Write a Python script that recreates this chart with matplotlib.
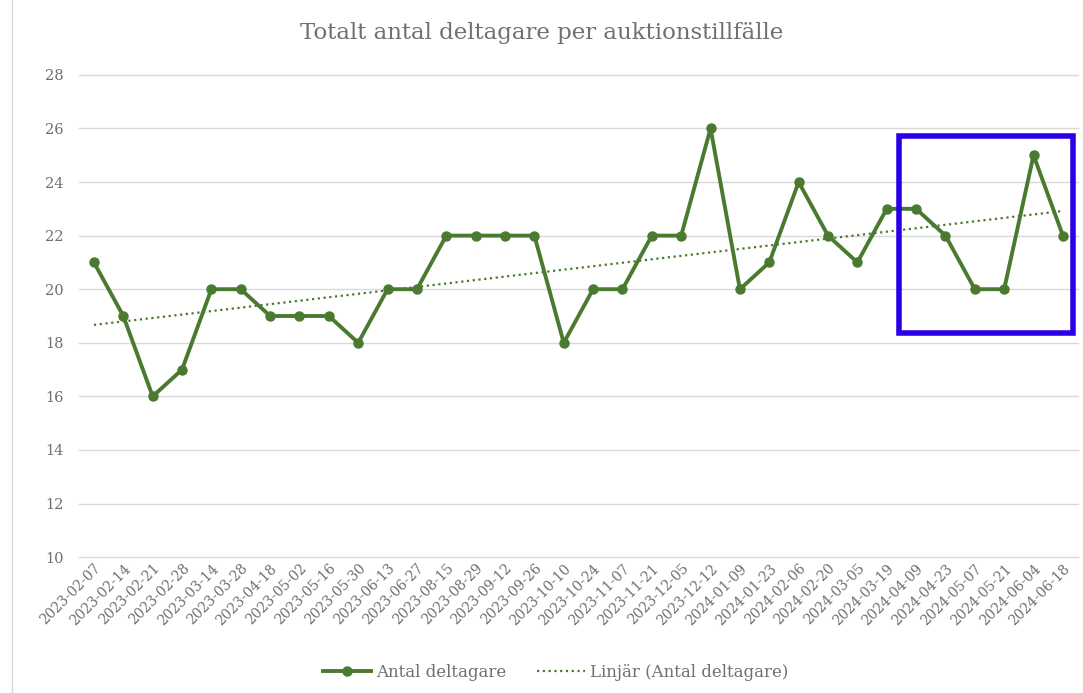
import matplotlib.pyplot as plt
from matplotlib.patches import Rectangle
import numpy as np

# -----------------------
# Data
# -----------------------

dates = [
    "2023-02-07", "2023-02-14", "2023-02-21", "2023-02-28", "2023-03-14",
    "2023-03-28", "2023-04-18", "2023-05-02", "2023-05-16", "2023-05-30",
    "2023-06-13", "2023-06-27", "2023-08-15", "2023-08-29", "2023-09-12",
    "2023-09-26", "2023-10-10", "2023-10-24", "2023-11-07", "2023-11-21",
    "2023-12-05", "2023-12-12", "2024-01-09", "2024-01-23", "2024-02-06",
    "2024-02-20", "2024-03-05", "2024-03-19", "2024-04-09", "2024-04-23",
    "2024-05-07", "2024-05-21", "2024-06-04", "2024-06-18",
]

deltagare = [
    21, 19, 16, 17, 20, 20, 19, 19, 19, 18,
    20, 20, 22, 22, 22, 22, 18, 20, 20, 22,
    22, 26, 20, 21, 24, 22, 21, 23, 23, 22,
    20, 20, 25, 22,
]

plt.rcParams["font.family"] = ["DejaVu Serif"]

green = "#4a7a30"
grey_text = "#6f6f6f"

fig = plt.figure(figsize=(10.83, 6.93), dpi=100)
ax = fig.add_axes([0.0732, 0.196, 0.9218, 0.696])

x = np.arange(len(dates))
ax.plot(x, deltagare, color=green, linewidth=2.8, marker="o",
        markersize=6.5, label="Antal deltagare", zorder=3)

# linear trend (Excel "Linjär")
k, m = np.polyfit(x, deltagare, 1)
ax.plot(x, k * x + m, color=green, linestyle=(0, (1, 1.6)),
        linewidth=1.6, label="Linjär (Antal deltagare)", zorder=2)

ax.set_xlim(-0.5, len(dates) - 0.5)
ax.set_ylim(10, 28)
ax.set_yticks(range(10, 29, 2))
ax.set_xticks(x)
ax.set_xticklabels(dates, rotation=45, ha="right", rotation_mode="anchor",
                   fontsize=10, color=grey_text)
ax.tick_params(axis="y", labelsize=10.5, labelcolor=grey_text, length=0, pad=11)
ax.tick_params(axis="x", length=0, pad=3)
ax.grid(axis="y", color="#d9d9d9", linewidth=1)
for gl in ax.get_ygridlines():
    gl.set_clip_on(False)
ax.set_axisbelow(True)
for s in ax.spines.values():
    s.set_visible(False)

fig.suptitle("Totalt antal deltagare per auktionstillfälle", y=0.968,
             fontsize=16.5, color="#707070")

# highlight box
ax.add_patch(Rectangle((27.42, 18.37), 5.93, 7.35, fill=False,
                       edgecolor="#2b00e6", linewidth=4, clip_on=False,
                       zorder=5))

# left frame line
fig.add_artist(plt.Line2D([0.011, 0.011], [0, 1], color="#d9d9d9",
                          linewidth=1))

fig.legend(loc="lower center", bbox_to_anchor=(0.513, -0.004), ncol=2,
           frameon=False, fontsize=12, labelcolor=grey_text,
           handlelength=2.9, handletextpad=0.3, columnspacing=1.8)

plt.savefig("out.png")
